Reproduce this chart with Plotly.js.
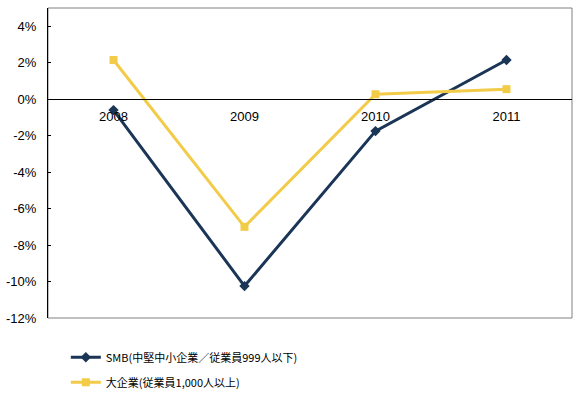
<!DOCTYPE html>
<html><head><meta charset="utf-8">
<script src="https://cdn.plot.ly/plotly-3.0.1.min.js"></script>
<style>html,body{margin:0;padding:0;background:#fff}#c{width:578px;height:394px}</style>
</head><body><div id="c"></div>
<script>
const categories = ['2008', '2009', '2010', '2011'];
const smbValues = [-0.6, -10.25, -1.75, 2.15];
const largeValues = [2.15, -7.0, 0.27, 0.55];
const seriesNames = ['SMB(中堅中小企業／従業員999人以下)', '大企業(従業員1,000人以上)'];
const yTickVals = [-12, -10, -8, -6, -4, -2, 0, 2, 4];
const yTickText = ['-12%', '-10%', '-8%', '-6%', '-4%', '-2%', '0%', '2%', '4%'];

const yMin = -12, yMax = 5;
const font = "'Liberation Sans', 'Noto Sans CJK JP', sans-serif";

const traces = [
  {x: categories, y: smbValues, name: seriesNames[0], legendgroup: 'a', type: 'scatter', mode: 'lines+markers',
   line: {color: '#1B3556', width: 3}, marker: {symbol: 'diamond', size: 8, color: '#1B3556'}},
  {x: categories, y: largeValues, name: seriesNames[1], legendgroup: 'b', type: 'scatter', mode: 'lines+markers',
   line: {color: '#F2CB48', width: 3}, marker: {symbol: 'square', size: 8, color: '#F2CB48'}}
];

const layout = {
  width: 578, height: 394,
  margin: {l: 48, r: 6, t: 8, b: 76, autoexpand: false},
  paper_bgcolor: '#fff', plot_bgcolor: '#fff',
  font: {family: font, size: 13, color: '#000'},
  showlegend: true,
  legend: {x: 0.034, y: -0.08, xanchor: 'left', yanchor: 'top', orientation: 'v',
           font: {size: 11, family: "'Noto Sans CJK JP', sans-serif"}, bgcolor: 'rgba(0,0,0,0)',
           tracegroupgap: 6, itemwidth: 30},
  xaxis: {type: 'category', range: [-0.5, 3.5], anchor: 'free', position: (0 - yMin) / (yMax - yMin),
          showline: true, linecolor: '#000', linewidth: 1, showgrid: false, zeroline: false,
          ticks: '', ticklabelstandoff: 5, tickfont: {size: 13}, fixedrange: true},
  yaxis: {range: [yMin, yMax], tickvals: yTickVals, ticktext: yTickText, showgrid: false, zeroline: false,
          showline: true, linecolor: '#000', linewidth: 1, ticks: 'inside', ticklen: 3, tickcolor: '#000',
          tickfont: {size: 13}, ticklabelstandoff: 8},
  shapes: [
    {type: 'rect', xref: 'paper', yref: 'paper', x0: 0, x1: 1, y0: 0, y1: 1,
     line: {color: '#808080', width: 1}, layer: 'below'}
  ]
};

Plotly.newPlot('c', traces, layout, {displayModeBar: false, staticPlot: true});
</script></body></html>
